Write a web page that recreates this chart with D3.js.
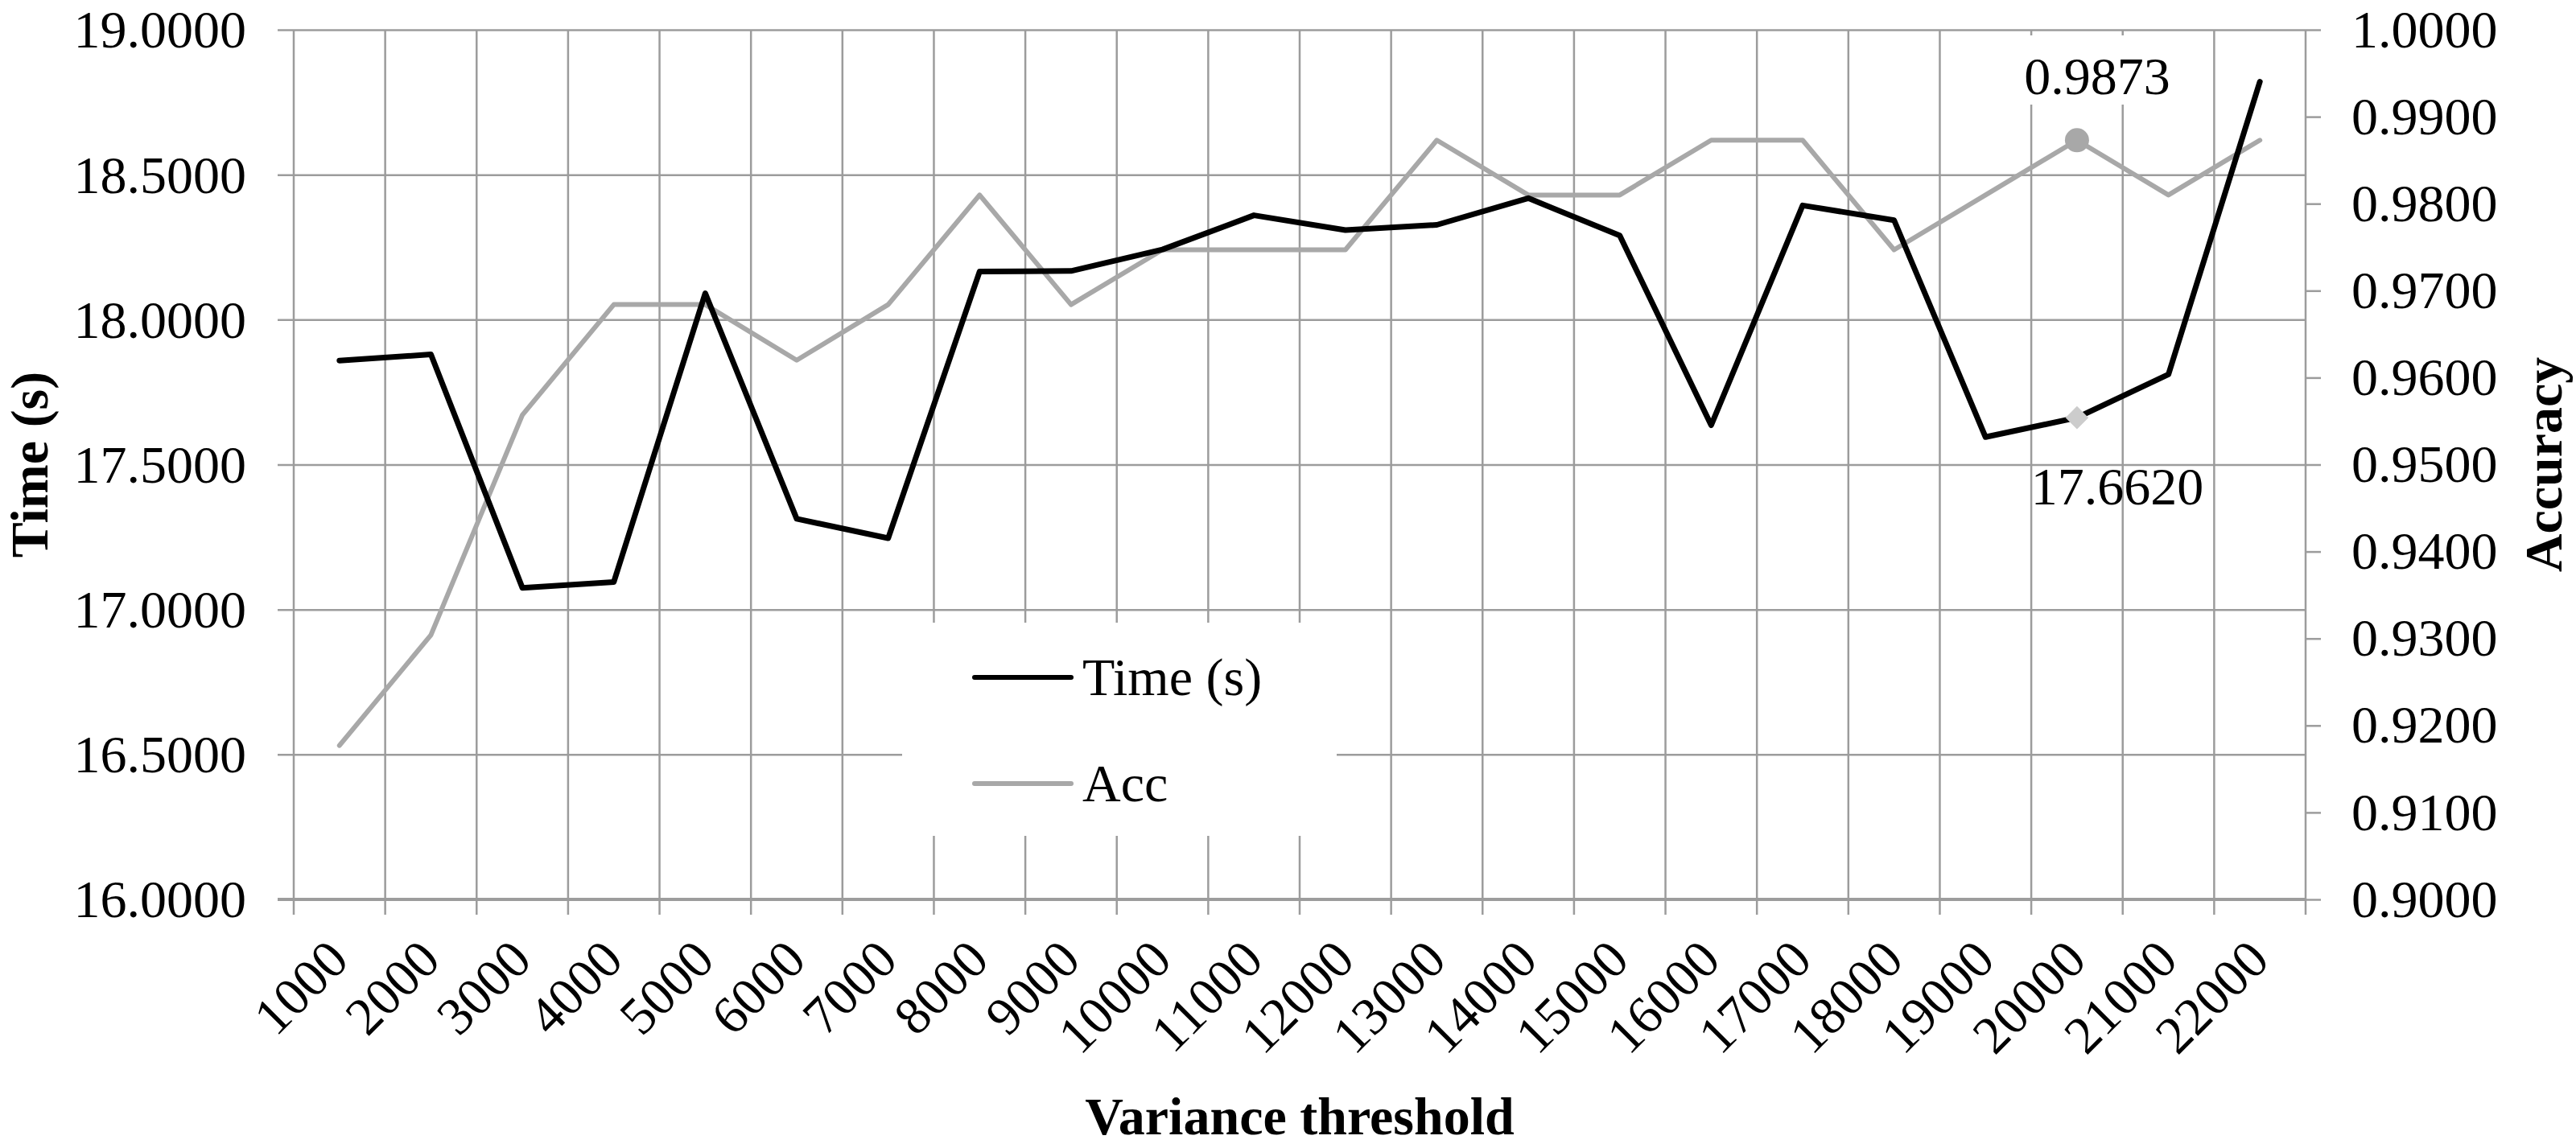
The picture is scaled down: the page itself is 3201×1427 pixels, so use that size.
<!DOCTYPE html>
<html>
<head>
<meta charset="utf-8">
<script src="https://cdn.jsdelivr.net/npm/d3@7"></script>
<style>
  body { margin: 0; background: #fff; }
  text { font-family: "Liberation Serif", "Times New Roman", serif; fill: #000; }
</style>
</head>
<body>
<div id="chart"></div>
<script>
// 데이터
const thresholds = ["1000","2000","3000","4000","5000","6000","7000","8000","9000","10000","11000",
                    "12000","13000","14000","15000","16000","17000","18000","19000","20000","21000","22000"];
const timeValues = [17.859, 17.880, 17.075, 17.095, 18.091, 17.313, 17.246, 18.166, 18.168, 18.242, 18.360,
                    18.309, 18.327, 18.419, 18.290, 17.636, 18.394, 18.343, 17.595, 17.662, 17.811, 18.821];
const accValues  = [0.9177, 0.9304, 0.9557, 0.9684, 0.9684, 0.9620, 0.9684, 0.9810, 0.9684, 0.9747, 0.9747,
                    0.9747, 0.9873, 0.9810, 0.9810, 0.9873, 0.9873, 0.9747, 0.9810, 0.9873, 0.9810, 0.9873];
const timeTicks = [16, 16.5, 17, 17.5, 18, 18.5, 19];
const accTicks  = [0.90, 0.91, 0.92, 0.93, 0.94, 0.95, 0.96, 0.97, 0.98, 0.99, 1.00];
const labelIndex = 19; // 20000 에 데이터 레이블

const W = 3201, H = 1427;
const plotLeft = 365, plotRight = 2865, plotTop = 37, plotBottom = 1118;
const fs = 66;
const gridColor = "#9c9c9c";

const svg = d3.select("#chart").append("svg")
    .attr("width", W)
    .attr("height", H)
    .style("background", "#fff");

// 축 설정
const x = d3.scaleBand().domain(thresholds).range([plotLeft, plotRight]).padding(0);
const yTime = d3.scaleLinear().domain([16, 19]).range([plotBottom, plotTop]);
const yAcc = d3.scaleLinear().domain([0.9, 1.0]).range([plotBottom, plotTop]);
const cx = d => x(d) + x.bandwidth() / 2;

// 가로 눈금선 (왼쪽 축 눈금 포함)
svg.append("g")
    .attr("transform", `translate(${plotRight},0)`)
    .call(d3.axisLeft(yTime).tickValues(timeTicks).tickSize(plotRight - plotLeft + 20).tickFormat(""))
    .call(g => g.select(".domain").remove())
    .call(g => g.selectAll("line").attr("stroke", gridColor).attr("stroke-width", 2.5));

// 세로 눈금선 (범주 경계)
const bounds = thresholds.map(d => x(d)).concat([plotRight]);
svg.append("g").selectAll("line")
    .data(bounds)
    .enter().append("line")
        .attr("x1", d => d).attr("x2", d => d)
        .attr("y1", plotTop).attr("y2", plotBottom + 19)
        .attr("stroke", gridColor).attr("stroke-width", 2.5);

// 아래 축선
svg.append("line")
    .attr("x1", plotLeft - 20).attr("x2", plotRight)
    .attr("y1", plotBottom).attr("y2", plotBottom)
    .attr("stroke", gridColor).attr("stroke-width", 4);

// 왼쪽 축 레이블
svg.append("g").selectAll("text")
    .data(timeTicks)
    .enter().append("text")
        .attr("x", plotLeft - 59)
        .attr("y", d => yTime(d))
        .attr("dy", "0.34em")
        .attr("text-anchor", "end")
        .style("font-size", fs + "px")
        .text(d => d.toFixed(4));

// 오른쪽 축 (작은 눈금 + 레이블)
svg.append("g")
    .attr("transform", `translate(${plotRight},0)`)
    .call(d3.axisRight(yAcc).tickValues(accTicks).tickSize(19).tickPadding(38).tickFormat(d => d.toFixed(4)))
    .call(g => g.select(".domain").remove())
    .call(g => g.selectAll("line").attr("stroke", gridColor).attr("stroke-width", 2.5))
    .call(g => g.selectAll("text")
        .attr("fill", "#000")
        .style("font-family", '"Liberation Serif", "Times New Roman", serif')
        .style("font-size", fs + "px"));

// 아래 축 레이블 (45도 회전)
svg.append("g").selectAll("text")
    .data(thresholds)
    .enter().append("text")
        .attr("transform", d => `translate(${cx(d) - 2},1180) rotate(-45)`)
        .attr("dy", "0.35em")
        .attr("text-anchor", "end")
        .style("font-size", fs + "px")
        .text(d => d);

// 축 제목
svg.append("text")
    .attr("transform", `translate(59,${(plotTop + plotBottom) / 2}) rotate(-90)`)
    .attr("text-anchor", "middle")
    .style("font-size", fs + "px")
    .style("font-weight", "bold")
    .text("Time (s)");

svg.append("text")
    .attr("transform", `translate(3183,${(plotTop + plotBottom) / 2}) rotate(-90)`)
    .attr("text-anchor", "middle")
    .style("font-size", fs + "px")
    .style("font-weight", "bold")
    .text("Accuracy");

svg.append("text")
    .attr("x", (plotLeft + plotRight) / 2)
    .attr("y", 1410)
    .attr("text-anchor", "middle")
    .style("font-size", fs + "px")
    .style("font-weight", "bold")
    .text("Variance threshold");

// 선
const timeLine = d3.line().x((d, i) => cx(thresholds[i])).y(d => yTime(d));
const accLine = d3.line().x((d, i) => cx(thresholds[i])).y(d => yAcc(d));

svg.append("path")
    .datum(accValues)
    .attr("d", accLine)
    .attr("fill", "none")
    .attr("stroke", "#a8a8a8")
    .attr("stroke-width", 6)
    .attr("stroke-linejoin", "round")
    .attr("stroke-linecap", "round");

svg.append("path")
    .datum(timeValues)
    .attr("d", timeLine)
    .attr("fill", "none")
    .attr("stroke", "#000")
    .attr("stroke-width", 7)
    .attr("stroke-linejoin", "round")
    .attr("stroke-linecap", "round");

// 데이터 레이블 마커
const lx = cx(thresholds[labelIndex]);
svg.append("circle")
    .attr("cx", lx)
    .attr("cy", yAcc(accValues[labelIndex]))
    .attr("r", 15)
    .attr("fill", "#a8a8a8");

svg.append("path")
    .attr("transform", `translate(${lx},${yTime(timeValues[labelIndex])})`)
    .attr("d", d3.symbol().type(d3.symbolDiamond2).size(520)())
    .attr("fill", "#cccccc");

svg.append("rect")
    .attr("x", lx - 100).attr("y", 44)
    .attr("width", 250).attr("height", 86)
    .attr("fill", "#fff");

svg.append("text")
    .attr("x", lx + 25)
    .attr("y", yAcc(accValues[labelIndex]) - 57)
    .attr("text-anchor", "middle")
    .style("font-size", fs + "px")
    .text(accValues[labelIndex].toFixed(4));

svg.append("text")
    .attr("x", lx + 50)
    .attr("y", yTime(timeValues[labelIndex]) + 108)
    .attr("text-anchor", "middle")
    .style("font-size", fs + "px")
    .text(timeValues[labelIndex].toFixed(4));

// 범례
const legend = svg.append("g");
legend.append("rect")
    .attr("x", 1121).attr("y", 774)
    .attr("width", 540).attr("height", 265)
    .attr("fill", "#fff");

const legendItems = [
    {name: "Time (s)", color: "#000", y: 842},
    {name: "Acc", color: "#a8a8a8", y: 974}
];
legendItems.forEach(item => {
    legend.append("line")
        .attr("x1", 1211).attr("x2", 1331)
        .attr("y1", item.y).attr("y2", item.y)
        .attr("stroke", item.color)
        .attr("stroke-width", 6)
        .attr("stroke-linecap", "round");
    legend.append("text")
        .attr("x", 1345)
        .attr("y", item.y)
        .attr("dy", "0.34em")
        .style("font-size", fs + "px")
        .text(item.name);
});
</script>
</body>
</html>
